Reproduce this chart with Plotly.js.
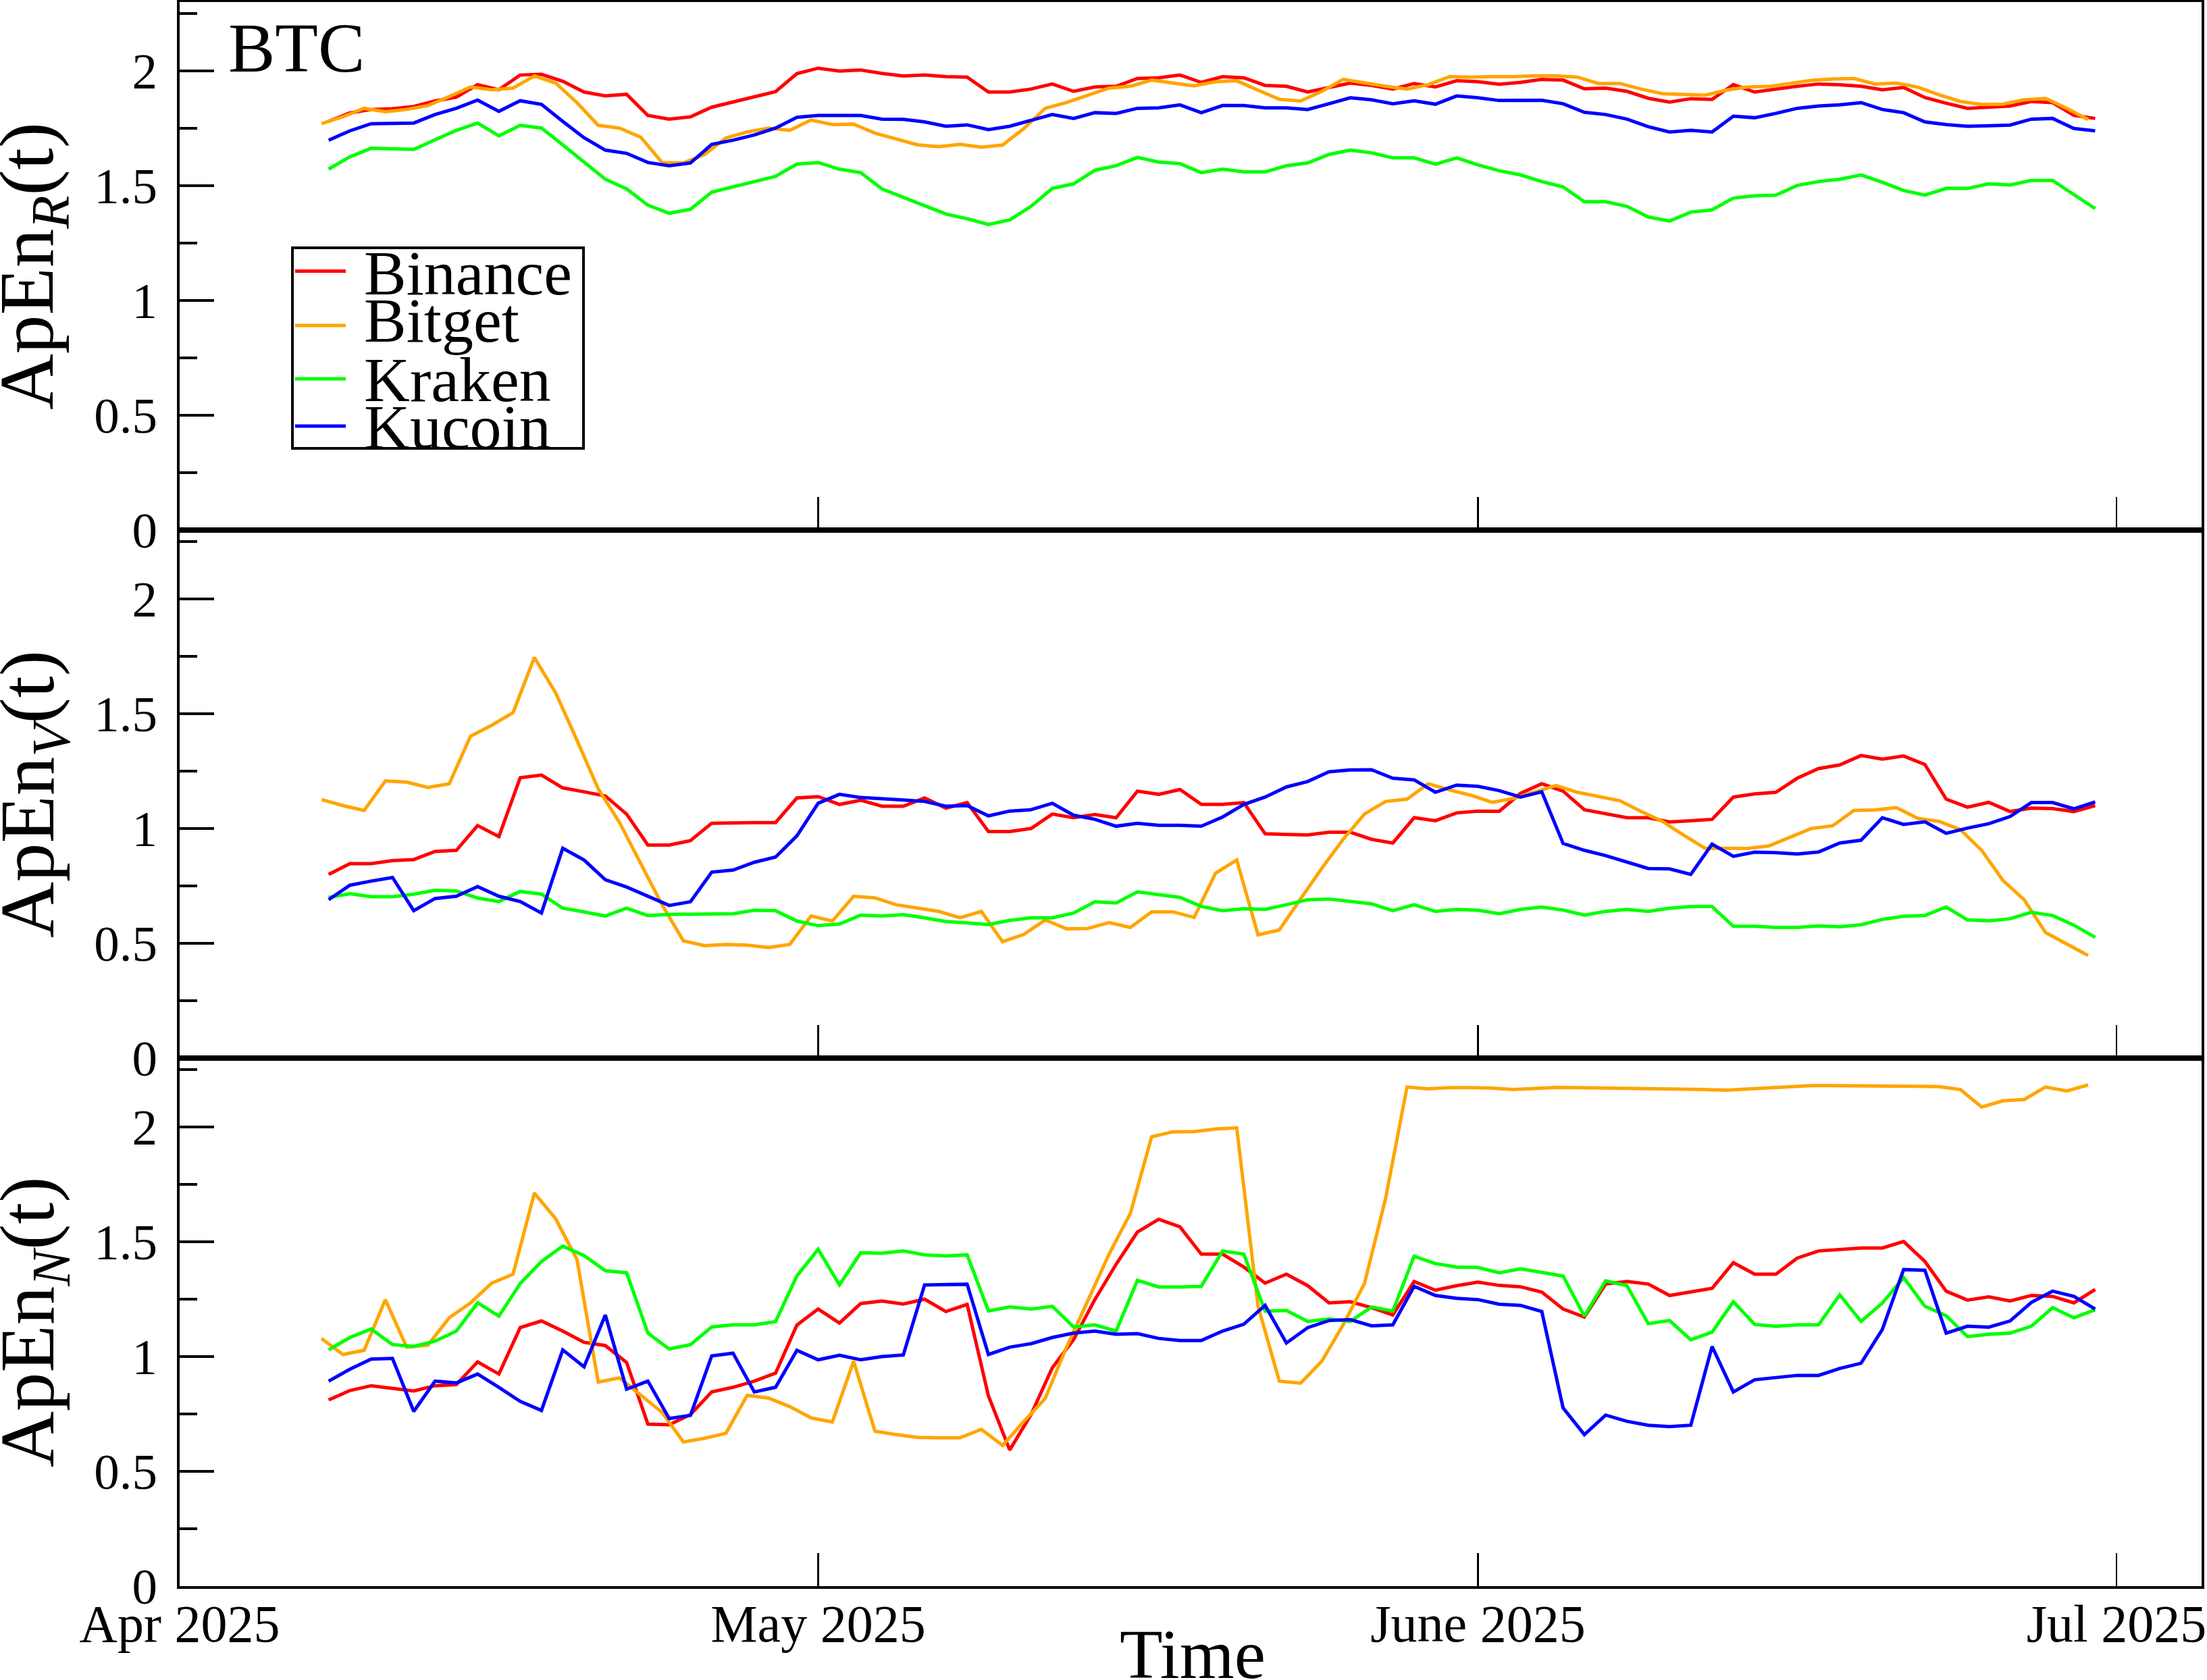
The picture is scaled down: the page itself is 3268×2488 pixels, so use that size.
<!DOCTYPE html>
<html>
<head>
<meta charset="utf-8">
<script src="https://cdn.plot.ly/plotly-3.0.1.min.js"></script>
<style>
  html, body { margin: 0; padding: 0; background: #ffffff; }
  #chart { width: 3268px; height: 2488px; }
</style>
</head>
<body>
<div id="chart"></div>
<script>
// Daily approximate-entropy series for BTC on four exchanges, 2025-04-08 .. 2025-06-30.
// Bitget windows are stamped 8 hours earlier than the other exchanges.
const exchanges = ['Binance', 'Bitget', 'Kraken', 'Kucoin'];
const colors = ['#ff0000', '#ffa500', '#00ff00', '#0000ff'];

const tickDates = ['2025-04-01', '2025-05-01', '2025-06-01', '2025-07-01'];
const tickLabels = ['Apr 2025', 'May 2025', 'June 2025', 'Jul 2025'];

// ApEn of returns
const binanceR = [1.780,1.817,1.832,1.835,1.845,1.869,1.886,1.940,1.918,1.982,1.985,1.955,1.908,1.891,1.898,1.806,1.790,1.800,1.842,1.864,1.886,1.910,1.988,2.012,1.999,2.004,1.989,1.978,
  1.982,1.975,1.973,1.908,1.908,1.921,1.943,1.911,1.930,1.933,1.967,1.970,1.982,1.950,1.975,1.970,1.937,1.933,1.908,1.926,1.947,1.937,1.921,1.945,1.930,1.957,1.953,1.942,
  1.950,1.963,1.960,1.922,1.925,1.911,1.881,1.864,1.879,1.876,1.940,1.908,1.921,1.933,1.943,1.940,1.933,1.918,1.928,1.884,1.859,1.837,1.842,1.847,1.867,1.862,1.806,1.793];
const bitgetR = [1.770,1.800,1.837,1.822,1.832,1.849,1.888,1.930,1.918,1.925,1.978,1.947,1.862,1.763,1.751,1.711,1.601,1.599,1.636,1.708,1.734,1.751,1.741,1.786,1.766,1.768,1.729,1.704,
  1.678,1.670,1.680,1.668,1.677,1.749,1.837,1.862,1.894,1.925,1.933,1.960,1.947,1.935,1.953,1.957,1.916,1.876,1.869,1.911,1.963,1.947,1.933,1.921,1.940,1.975,1.973,1.975,
  1.975,1.979,1.979,1.973,1.945,1.945,1.921,1.901,1.899,1.894,1.916,1.930,1.932,1.945,1.959,1.965,1.967,1.943,1.947,1.929,1.896,1.867,1.854,1.855,1.874,1.880,1.837,1.788];
const krakenR = [1.572,1.626,1.663,1.662,1.658,1.700,1.741,1.773,1.717,1.763,1.751,1.678,1.603,1.528,1.486,1.415,1.380,1.397,1.472,1.495,1.521,1.541,1.594,1.601,1.572,1.557,1.486,1.448,
  1.413,1.377,1.356,1.331,1.351,1.410,1.488,1.508,1.567,1.587,1.623,1.603,1.596,1.557,1.572,1.560,1.560,1.587,1.599,1.636,1.655,1.643,1.621,1.621,1.594,1.621,1.591,1.565,
  1.547,1.518,1.495,1.430,1.430,1.410,1.364,1.346,1.385,1.395,1.446,1.456,1.459,1.501,1.518,1.528,1.547,1.515,1.479,1.459,1.488,1.488,1.508,1.503,1.523,1.523,1.462,1.400];
const kucoinR = [1.698,1.739,1.770,1.771,1.773,1.810,1.837,1.873,1.824,1.870,1.854,1.780,1.709,1.655,1.641,1.601,1.587,1.599,1.680,1.698,1.721,1.751,1.798,1.806,1.806,1.806,1.790,1.789,
  1.778,1.759,1.765,1.744,1.759,1.783,1.810,1.793,1.818,1.815,1.837,1.839,1.852,1.818,1.849,1.849,1.839,1.839,1.832,1.857,1.883,1.874,1.857,1.870,1.855,1.891,1.883,1.871,
  1.872,1.872,1.857,1.820,1.810,1.790,1.757,1.734,1.741,1.734,1.803,1.796,1.815,1.837,1.847,1.852,1.862,1.832,1.818,1.778,1.766,1.759,1.761,1.764,1.790,1.793,1.749,1.739];

// ApEn of traded volume
const binanceV = [0.800,0.847,0.847,0.860,0.865,0.900,0.905,1.013,0.965,1.221,1.233,1.177,1.160,1.142,1.063,0.928,0.928,0.947,1.023,1.026,1.026,1.026,1.133,1.139,1.105,1.123,1.097,1.097,
  1.133,1.089,1.113,0.987,0.987,1.000,1.063,1.047,1.061,1.047,1.163,1.149,1.170,1.105,1.105,1.113,0.977,0.974,0.972,0.984,0.984,0.953,0.937,1.047,1.034,1.068,1.076,1.075,
  1.153,1.195,1.163,1.082,1.065,1.047,1.047,1.029,1.034,1.040,1.137,1.151,1.158,1.219,1.261,1.277,1.318,1.302,1.316,1.279,1.128,1.093,1.114,1.074,1.089,1.087,1.074,1.100];
const bitgetV = [1.126,1.100,1.079,1.207,1.202,1.179,1.195,1.402,1.450,1.505,1.745,1.591,1.385,1.173,1.026,0.850,0.668,0.511,0.490,0.495,0.492,0.482,0.495,0.619,0.597,0.705,0.698,0.668,
  0.655,0.639,0.611,0.639,0.507,0.539,0.602,0.563,0.565,0.590,0.569,0.637,0.637,0.613,0.805,0.863,0.537,0.558,0.694,0.827,0.953,1.063,1.118,1.128,1.195,1.168,1.145,1.114,
  1.131,1.160,1.187,1.158,1.139,1.121,1.074,1.031,0.971,0.914,0.914,0.913,0.924,0.963,1.000,1.012,1.079,1.081,1.091,1.044,1.031,0.995,0.905,0.774,0.689,0.547,0.495,0.447];
const krakenV = [0.700,0.716,0.703,0.703,0.714,0.731,0.728,0.697,0.682,0.726,0.714,0.653,0.637,0.619,0.653,0.621,0.626,0.626,0.628,0.629,0.644,0.642,0.597,0.577,0.584,0.623,0.619,0.625,
  0.611,0.595,0.589,0.582,0.600,0.611,0.611,0.632,0.681,0.676,0.724,0.711,0.700,0.661,0.642,0.651,0.648,0.668,0.690,0.693,0.684,0.672,0.642,0.668,0.639,0.648,0.644,0.629,
  0.648,0.658,0.645,0.623,0.639,0.648,0.639,0.653,0.660,0.660,0.574,0.574,0.569,0.569,0.576,0.572,0.581,0.604,0.618,0.621,0.658,0.602,0.598,0.607,0.635,0.621,0.579,0.526];
const kucoinV = [0.690,0.753,0.771,0.787,0.642,0.695,0.705,0.747,0.705,0.682,0.632,0.914,0.863,0.777,0.745,0.703,0.665,0.681,0.810,0.819,0.853,0.876,0.968,1.110,1.149,1.135,1.128,1.124,
  1.118,1.097,1.100,1.055,1.076,1.082,1.110,1.058,1.040,1.010,1.023,1.014,1.014,1.010,1.050,1.105,1.137,1.181,1.205,1.247,1.255,1.256,1.219,1.212,1.158,1.189,1.184,1.165,
  1.137,1.160,0.935,0.905,0.882,0.853,0.826,0.824,0.800,0.932,0.879,0.897,0.895,0.889,0.898,0.937,0.949,1.047,1.018,1.029,0.979,1.002,1.021,1.052,1.113,1.113,1.086,1.116];

// ApEn of trade counts
const binanceN = [0.811,0.852,0.873,0.861,0.850,0.873,0.878,0.977,0.924,1.126,1.155,1.111,1.062,1.048,0.974,0.706,0.703,0.747,0.846,0.866,0.893,0.928,1.137,1.207,1.146,1.231,1.242,1.229,
  1.250,1.196,1.227,0.829,0.593,0.747,0.951,1.074,1.248,1.402,1.542,1.598,1.565,1.446,1.446,1.390,1.320,1.359,1.309,1.234,1.239,1.213,1.181,1.327,1.289,1.309,1.324,1.310,
  1.304,1.281,1.207,1.172,1.316,1.327,1.316,1.266,1.283,1.297,1.409,1.359,1.359,1.429,1.460,1.467,1.473,1.473,1.501,1.414,1.285,1.246,1.260,1.242,1.266,1.262,1.234,1.292];
const bitgetN = [1.079,1.009,1.027,1.248,1.041,1.050,1.169,1.234,1.320,1.359,1.712,1.600,1.423,0.889,0.907,0.834,0.757,0.628,0.644,0.666,0.831,0.819,0.782,0.733,0.715,0.980,0.675,0.660,
  0.648,0.646,0.646,0.683,0.613,0.718,0.817,1.040,1.240,1.446,1.623,1.957,1.979,1.980,1.991,1.996,1.220,0.893,0.884,0.980,1.138,1.318,1.691,2.174,2.166,2.171,2.171,2.169,
  2.163,2.166,2.172,2.171,2.170,2.169,2.169,2.165,2.165,2.163,2.160,2.165,2.172,2.178,2.180,2.180,2.180,2.179,2.178,2.177,2.176,2.163,2.087,2.114,2.120,2.174,2.157,2.183];
const krakenN = [1.029,1.083,1.120,1.052,1.044,1.067,1.111,1.234,1.176,1.318,1.414,1.481,1.440,1.374,1.365,1.102,1.033,1.052,1.129,1.138,1.138,1.152,1.351,1.467,1.312,1.452,1.450,1.460,
  1.443,1.438,1.443,1.199,1.216,1.207,1.219,1.129,1.138,1.111,1.332,1.303,1.303,1.306,1.460,1.446,1.198,1.201,1.153,1.164,1.153,1.216,1.198,1.437,1.405,1.390,1.388,1.365,
  1.382,1.368,1.351,1.176,1.330,1.309,1.143,1.157,1.073,1.106,1.239,1.140,1.132,1.138,1.138,1.269,1.153,1.233,1.344,1.219,1.178,1.087,1.097,1.102,1.132,1.213,1.169,1.204];
const kucoinN = [0.893,0.945,0.989,0.992,0.761,0.893,0.885,0.924,0.866,0.805,0.765,1.029,0.955,1.181,0.858,0.893,0.730,0.744,1.003,1.015,0.846,0.866,1.027,0.986,1.006,0.986,1.000,1.007,
  1.312,1.315,1.315,1.009,1.041,1.056,1.083,1.102,1.111,1.097,1.100,1.079,1.070,1.070,1.111,1.141,1.223,1.059,1.126,1.157,1.161,1.134,1.138,1.306,1.266,1.254,1.248,1.228,
  1.223,1.196,0.776,0.660,0.745,0.718,0.701,0.695,0.701,1.044,0.846,0.899,0.910,0.918,0.918,0.948,0.971,1.118,1.379,1.376,1.102,1.132,1.128,1.155,1.236,1.285,1.262,1.207];

// Timestamps: one value per day; Bitget shifted 8 h earlier.
function dailyStamps(y, m, d, hour, n) {
  const out = [];
  const t0 = Date.UTC(y, m - 1, d, hour);
  for (let k = 0; k < n; k++) {
    out.push(new Date(t0 + k * 86400000).toISOString().slice(0, 16).replace('T', ' '));
  }
  return out;
}
const n = binanceR.length;
const days = dailyStamps(2025, 4, 8, 0, n);
const bitgetDays = dailyStamps(2025, 4, 7, 16, n);

const panels = [
  { ax: ['x', 'y'],   data: [binanceR, bitgetR, krakenR, kucoinR] },
  { ax: ['x2', 'y2'], data: [binanceV, bitgetV, krakenV, kucoinV] },
  { ax: ['x3', 'y3'], data: [binanceN, bitgetN, krakenN, kucoinN] }
];

const traces = [];
panels.forEach(p => {
  p.data.forEach((vals, k) => {
    traces.push({
      type: 'scatter', mode: 'lines',
      x: k === 1 ? bitgetDays : days,
      y: vals,
      name: exchanges[k],
      xaxis: p.ax[0], yaxis: p.ax[1],
      line: { color: colors[k], width: 5 },
      showlegend: false,
      hoverinfo: 'skip'
    });
  });
});

const serif = '"Liberation Serif", "Times New Roman", Times, serif';

function yAxis(domain) {
  return {
    domain: domain, range: [0, 2.3], tick0: 0, dtick: 0.5,
    ticks: 'inside', ticklen: 51, tickwidth: 4, tickcolor: '#000',
    showline: true, linewidth: 4, linecolor: '#000', mirror: true,
    showgrid: false, zeroline: false,
    ticklabelstandoff: 14,
    tickfont: { family: serif, size: 75, color: '#000' },
    minor: { dtick: 0.25, ticks: 'inside', ticklen: 26, tickwidth: 4, tickcolor: '#000', showgrid: false }
  };
}
function xAxis(anchor, labels) {
  const a = {
    type: 'date', anchor: anchor, range: ['2025-04-01', '2025-07-05'],
    tickmode: 'array', tickvals: tickDates, ticktext: tickLabels,
    ticks: 'inside', ticklen: 49, tickwidth: 2.5, tickcolor: '#000',
    showline: true, linewidth: 4, linecolor: '#000', mirror: true,
    showgrid: false, zeroline: false, showticklabels: labels,
    ticklabelstandoff: -16, ticklabeloverflow: 'allow',
    tickfont: { family: serif, size: 78, color: '#000' }
  };
  if (anchor !== 'y') a.matches = 'x';
  return a;
}

// paper-coordinate helpers for the plot box (266..3260 px wide, 3..2349 px tall)
const L = 266, R = 3260, T = 3, B = 2349;
const px = v => (v - L) / (R - L);
const py = v => (B - v) / (B - T);

const legendRows = [401.5, 482, 561, 631];
const legendText = [404.5, 474, 562.5, 632];

const shapes = [{
  type: 'rect', xref: 'paper', yref: 'paper',
  x0: px(433), x1: px(864), y0: py(664), y1: py(367),
  line: { color: '#000', width: 4 }, fillcolor: '#fff', layer: 'above'
}];
exchanges.forEach((name, k) => {
  shapes.push({
    type: 'line', xref: 'paper', yref: 'paper',
    x0: px(437), x1: px(512), y0: py(legendRows[k]), y1: py(legendRows[k]),
    line: { color: colors[k], width: 5 }, layer: 'above'
  });
});

const annotations = [
  { text: 'BTC', xref: 'paper', yref: 'paper', x: px(336), y: py(70.5),
    xanchor: 'left', yanchor: 'middle', showarrow: false,
    font: { family: serif, size: 104, color: '#000' } },
  { text: 'Time', xref: 'paper', yref: 'paper', x: px(1766), y: py(2449),
    xanchor: 'center', yanchor: 'middle', showarrow: false,
    font: { family: serif, size: 104, color: '#000' } }
];
const yTitles = ['ApEn<sub><i>R</i></sub>(t)', 'ApEn<sub><i>V</i></sub>(t)', 'ApEn<sub><i>N</i></sub>(t)'];
const yCenters = [5 / 6, 0.5, 1 / 6];
yTitles.forEach((t, k) => {
  annotations.push({
    text: t, xref: 'paper', yref: 'paper', x: px(48), y: yCenters[k],
    xanchor: 'center', yanchor: 'middle', textangle: -90, showarrow: false,
    font: { family: serif, size: 115, color: '#000' }
  });
});
exchanges.forEach((name, k) => {
  annotations.push({
    text: name, xref: 'paper', yref: 'paper', x: px(537), y: py(legendText[k]),
    xanchor: 'left', yanchor: 'middle', showarrow: false,
    font: { family: serif, size: 94, color: '#000' }
  });
});

const layout = {
  width: 3268, height: 2488,
  margin: { l: L, r: 3268 - R, t: T, b: 2488 - B, pad: 0 },
  paper_bgcolor: '#fff', plot_bgcolor: '#fff',
  showlegend: false,
  xaxis: xAxis('y', false),
  xaxis2: xAxis('y2', false),
  xaxis3: xAxis('y3', true),
  yaxis: yAxis([2 / 3, 1]),
  yaxis2: yAxis([1 / 3, 2 / 3]),
  yaxis3: yAxis([0, 1 / 3]),
  shapes: shapes,
  annotations: annotations
};

Plotly.newPlot('chart', traces, layout, { staticPlot: true, displayModeBar: false });
</script>
</body>
</html>
